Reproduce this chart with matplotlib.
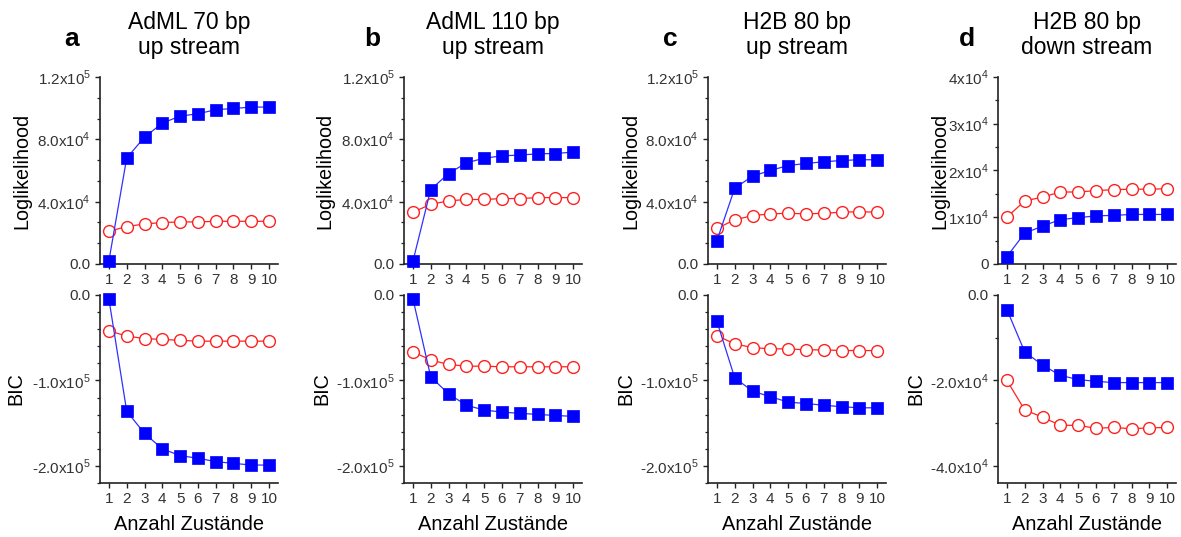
import matplotlib
matplotlib.use("Agg")
import matplotlib.pyplot as plt
from matplotlib.ticker import FixedLocator, AutoMinorLocator, FixedFormatter

plt.rcParams['font.family'] = ['Liberation Sans', 'DejaVu Sans']
plt.rcParams['mathtext.fontset'] = 'custom'
plt.rcParams['mathtext.rm'] = 'Liberation Sans'

states = list(range(1, 11))

letters = ["a", "b", "c", "d"]
titles = ["AdML 70 bp", "AdML 110 bp", "H2B 80 bp", "H2B 80 bp"]
subtitles = ["up stream", "up stream", "up stream", "down stream"]

ll_blue = {
    "a": [2000, 68000, 81400, 90400, 94900, 96400, 99000, 99800, 100700, 100700],
    "b": [1700, 47800, 58000, 64900, 67900, 69400, 69900, 70700, 70900, 71800],
    "c": [15000, 48600, 56400, 60000, 63200, 64500, 65600, 66400, 66900, 66900],
    "d": [1600, 6600, 8100, 9500, 9900, 10300, 10400, 10600, 10600, 10600],
}
ll_red = {
    "a": [21000, 24000, 25700, 26600, 27000, 27000, 27400, 27400, 27400, 27400],
    "b": [33200, 38300, 40500, 41400, 41400, 42000, 42000, 42600, 42600, 42600],
    "c": [22900, 28300, 31100, 32100, 32600, 32100, 32600, 33200, 33600, 33200],
    "d": [10000, 13500, 14300, 15400, 15400, 15700, 15900, 16000, 16000, 16100],
}
bic_blue = {
    "a": [-4700, -136000, -162000, -180000, -188000, -191000, -195000, -197000, -199000, -199000],
    "b": [-4300, -95700, -115600, -129000, -134600, -137000, -138500, -139700, -141000, -142000],
    "c": [-30700, -96900, -112500, -119000, -125300, -127000, -129000, -130700, -132000, -132000],
    "d": [-3400, -13300, -16400, -18800, -19800, -20200, -20500, -20500, -20500, -20500],
}
bic_red = {
    "a": [-42000, -48000, -51000, -52000, -53000, -54000, -54000, -54000, -54000, -54000],
    "b": [-66500, -76000, -81300, -83300, -83300, -84000, -84000, -84000, -84000, -84000],
    "c": [-47500, -57200, -61500, -63000, -63000, -64200, -64200, -65000, -65000, -65000],
    "d": [-20000, -26900, -28600, -30500, -30500, -31200, -31000, -31300, -31100, -31000],
}

# y axis setup: (limits, tick values, tick labels, minor subdivisions)
big_ll = ((0, 120000), [0, 40000, 80000, 120000],
          ["0.0", r"4.0x10$^{4}$", r"8.0x10$^{4}$", r"1.2x10$^{5}$"], 3)
big_bic = ((-220000, 0), [-200000, -100000, 0],
           [r"-2.0x10$^{5}$", r"-1.0x10$^{5}$", "0.0"], 5)
small_ll = ((0, 40000), [0, 10000, 20000, 30000, 40000],
            ["0", r"1x10$^{4}$", r"2x10$^{4}$", r"3x10$^{4}$", r"4x10$^{4}$"], 2)
small_bic = ((-44000, 0), [-40000, -20000, 0],
             [r"-4.0x10$^{4}$", r"-2.0x10$^{4}$", "0.0"], 2)
yaxes_ll = {"a": big_ll, "b": big_ll, "c": big_ll, "d": small_ll}
yaxes_bic = {"a": big_bic, "b": big_bic, "c": big_bic, "d": small_bic}

W, H = 1181, 537
fig = plt.figure(figsize=(W / 100, H / 100), dpi=100)

lefts = [100, 404, 708, 998]
letter_x = [72, 372, 670, 967]
ll_label_off = [-78, -79, -77, -58]
bic_label_off = [-84, -82, -82, -82]
axw = 178


def style(ax, yset):
    lim, ticks, labels, nminor = yset
    ax.set_xlim(0.5, 10.5)
    ax.set_ylim(*lim)
    ax.yaxis.set_major_locator(FixedLocator(ticks))
    ax.yaxis.set_major_formatter(FixedFormatter(labels))
    ax.yaxis.set_minor_locator(AutoMinorLocator(nminor))
    ax.set_xticks(states)
    for s in ["top", "right"]:
        ax.spines[s].set_visible(False)
    for s in ["left", "bottom"]:
        ax.spines[s].set_linewidth(1.2)
        ax.spines[s].set_color("#222222")
    ax.tick_params(which="major", direction="out", length=3.5, width=1.0,
                   color="#222222", labelsize=11, labelcolor="#333333", pad=3)
    ax.tick_params(which="minor", direction="out", length=2.5, width=0.9,
                   color="#222222")
    ax.tick_params(axis="x", which="minor", length=0)
    ax.set_facecolor("none")


def draw(ax, blue, red):
    ax.plot(states, red, color="#ff2020", lw=0.9, marker="o", ms=8.5,
            mfc="white", mec="#ff2020", mew=1.0, clip_on=False, zorder=3)
    ax.plot(states, blue, color="#3030ff", lw=0.9, marker="s", ms=8,
            mfc="#0000ff", mec="#0000ff", mew=0.5, clip_on=False, zorder=4)


for i, k in enumerate(letters):
    left = lefts[i] / W
    w = axw / W
    ax_top = fig.add_axes([left, 1 - 264 / H, w, 187 / H])
    ax_bot = fig.add_axes([left, 1 - 483 / H, w, 188 / H])

    style(ax_top, yaxes_ll[k])
    style(ax_bot, yaxes_bic[k])
    draw(ax_top, ll_blue[k], ll_red[k])
    draw(ax_bot, bic_blue[k], bic_red[k])

    ax_top.text(0.5, (264 - 22) / 187, titles[i], transform=ax_top.transAxes,
                ha="center", va="center", fontsize=16.5)
    ax_top.text(0.5, (264 - 48) / 187, subtitles[i], transform=ax_top.transAxes,
                ha="center", va="center", fontsize=16.5)
    fig.text(letter_x[i] / W, 1 - 46 / H, k, ha="center", va="baseline",
             fontsize=19, fontweight="bold")

    ax_top.text(ll_label_off[i] / axw, 0.5, "Loglikelihood", rotation=90,
                transform=ax_top.transAxes, ha="center", va="center", fontsize=14.2)
    ax_bot.text(bic_label_off[i] / axw, 0.5, "BIC", rotation=90,
                transform=ax_bot.transAxes, ha="center", va="center", fontsize=14.2)
    ax_bot.text(0.5, -42 / 188, "Anzahl Zustände", transform=ax_bot.transAxes,
                ha="center", va="center", fontsize=14.4)

fig.savefig("out.png", dpi=100)
